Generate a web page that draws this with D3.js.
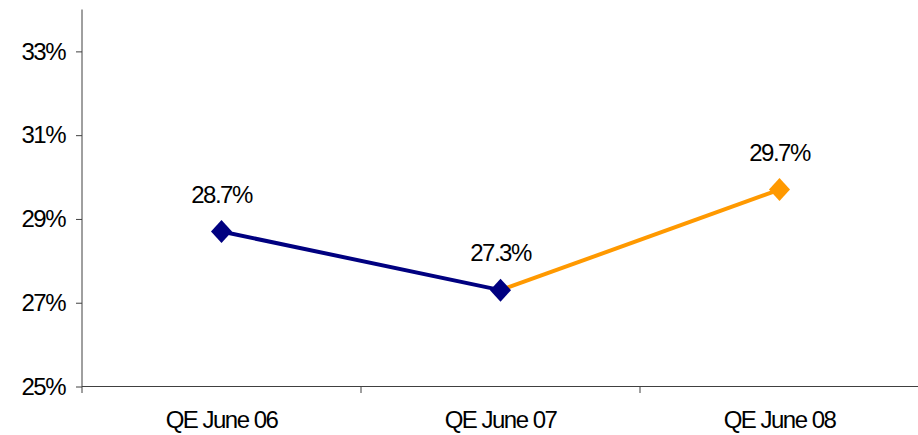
<!DOCTYPE html>
<html>
<head>
<meta charset="utf-8">
<script src="https://cdn.jsdelivr.net/npm/d3@7"></script>
<style>
  html, body { margin: 0; padding: 0; background: #fff; }
  svg { display: block; font-family: "Liberation Sans", Arial, sans-serif; }
</style>
</head>
<body>
<svg id="chart" width="918" height="435"></svg>
<script>
// Quarter-end share, two segments: historic (navy) and latest (orange)
const categories = ["QE June 06", "QE June 07", "QE June 08"];
const historic = [28.7, 27.3, null];
const latest = [null, 27.3, 29.7];
const yTicks = [25, 27, 29, 31, 33];

const svg = d3.select("#chart");
const plotLeft = 82, plotRight = 919, plotBottom = 386.5, plotTop = 9.5;

const x = d3.scaleBand().domain(categories).range([plotLeft, plotRight]).padding(0);
const y = d3.scaleLinear().domain([25, 34]).range([plotBottom, plotTop]);

const axisColor = "#404040";
const fontSize = 24;
const tracking = "-1.5px";

// Y axis
const yAxis = svg.append("g")
  .attr("transform", `translate(${plotLeft},0)`)
  .call(d3.axisLeft(y).tickValues(yTicks).tickSize(6).tickSizeOuter(0)
    .tickPadding(11).tickFormat(d => d + "%"));
yAxis.select(".domain").remove();
yAxis.selectAll(".tick line").attr("stroke", axisColor);
yAxis.selectAll(".tick text")
  .attr("fill", "#000")
  .attr("font-size", fontSize)
  .attr("letter-spacing", tracking)
  .attr("font-family", "Liberation Sans, Arial, sans-serif");
svg.append("line")
  .attr("x1", plotLeft).attr("x2", plotLeft)
  .attr("y1", y(34)).attr("y2", plotBottom + 6.5)
  .attr("stroke", axisColor).attr("stroke-width", 1);

// X axis baseline and category boundary ticks
svg.append("line")
  .attr("x1", plotLeft).attr("x2", plotRight)
  .attr("y1", plotBottom).attr("y2", plotBottom)
  .attr("stroke", axisColor).attr("stroke-width", 1);
svg.append("g").selectAll("line")
  .data(categories.slice(1))
  .join("line")
  .attr("x1", d => x(d)).attr("x2", d => x(d))
  .attr("y1", plotBottom).attr("y2", plotBottom + 6.5)
  .attr("stroke", axisColor).attr("stroke-width", 1);

svg.append("g").selectAll("text")
  .data(categories)
  .join("text")
  .attr("x", d => x(d) + x.bandwidth() / 2)
  .attr("y", 428)
  .attr("text-anchor", "middle")
  .attr("font-size", fontSize)
  .attr("letter-spacing", tracking)
  .attr("fill", "#000")
  .text(d => d);

const cx = i => x(categories[i]) + x.bandwidth() / 2;

function drawSeries(values, color, markerIdx) {
  const pts = values.map((v, i) => ({ v, i })).filter(p => p.v !== null);
  const line = d3.line().x(p => cx(p.i)).y(p => y(p.v));
  svg.append("path")
    .datum(pts)
    .attr("d", line)
    .attr("fill", "none")
    .attr("stroke", color)
    .attr("stroke-width", 4);
  const marks = pts.filter(p => markerIdx.includes(p.i));
  svg.append("g").selectAll("path")
    .data(marks)
    .join("path")
    .attr("transform", p => `translate(${cx(p.i)},${y(p.v)})`)
    .attr("d", "M0,-11.5L10.5,0L0,11.5L-10.5,0Z")
    .attr("fill", color);
  svg.append("g").selectAll("text")
    .data(marks)
    .join("text")
    .attr("x", p => cx(p.i))
    .attr("y", p => y(p.v) - 29)
    .attr("text-anchor", "middle")
    .attr("font-size", fontSize)
    .attr("letter-spacing", tracking)
    .attr("fill", "#000")
    .text(p => p.v.toFixed(1) + "%");
}

drawSeries(latest, "#FF9900", [2]);
drawSeries(historic, "#000080", [0, 1]);
</script>
</body>
</html>
